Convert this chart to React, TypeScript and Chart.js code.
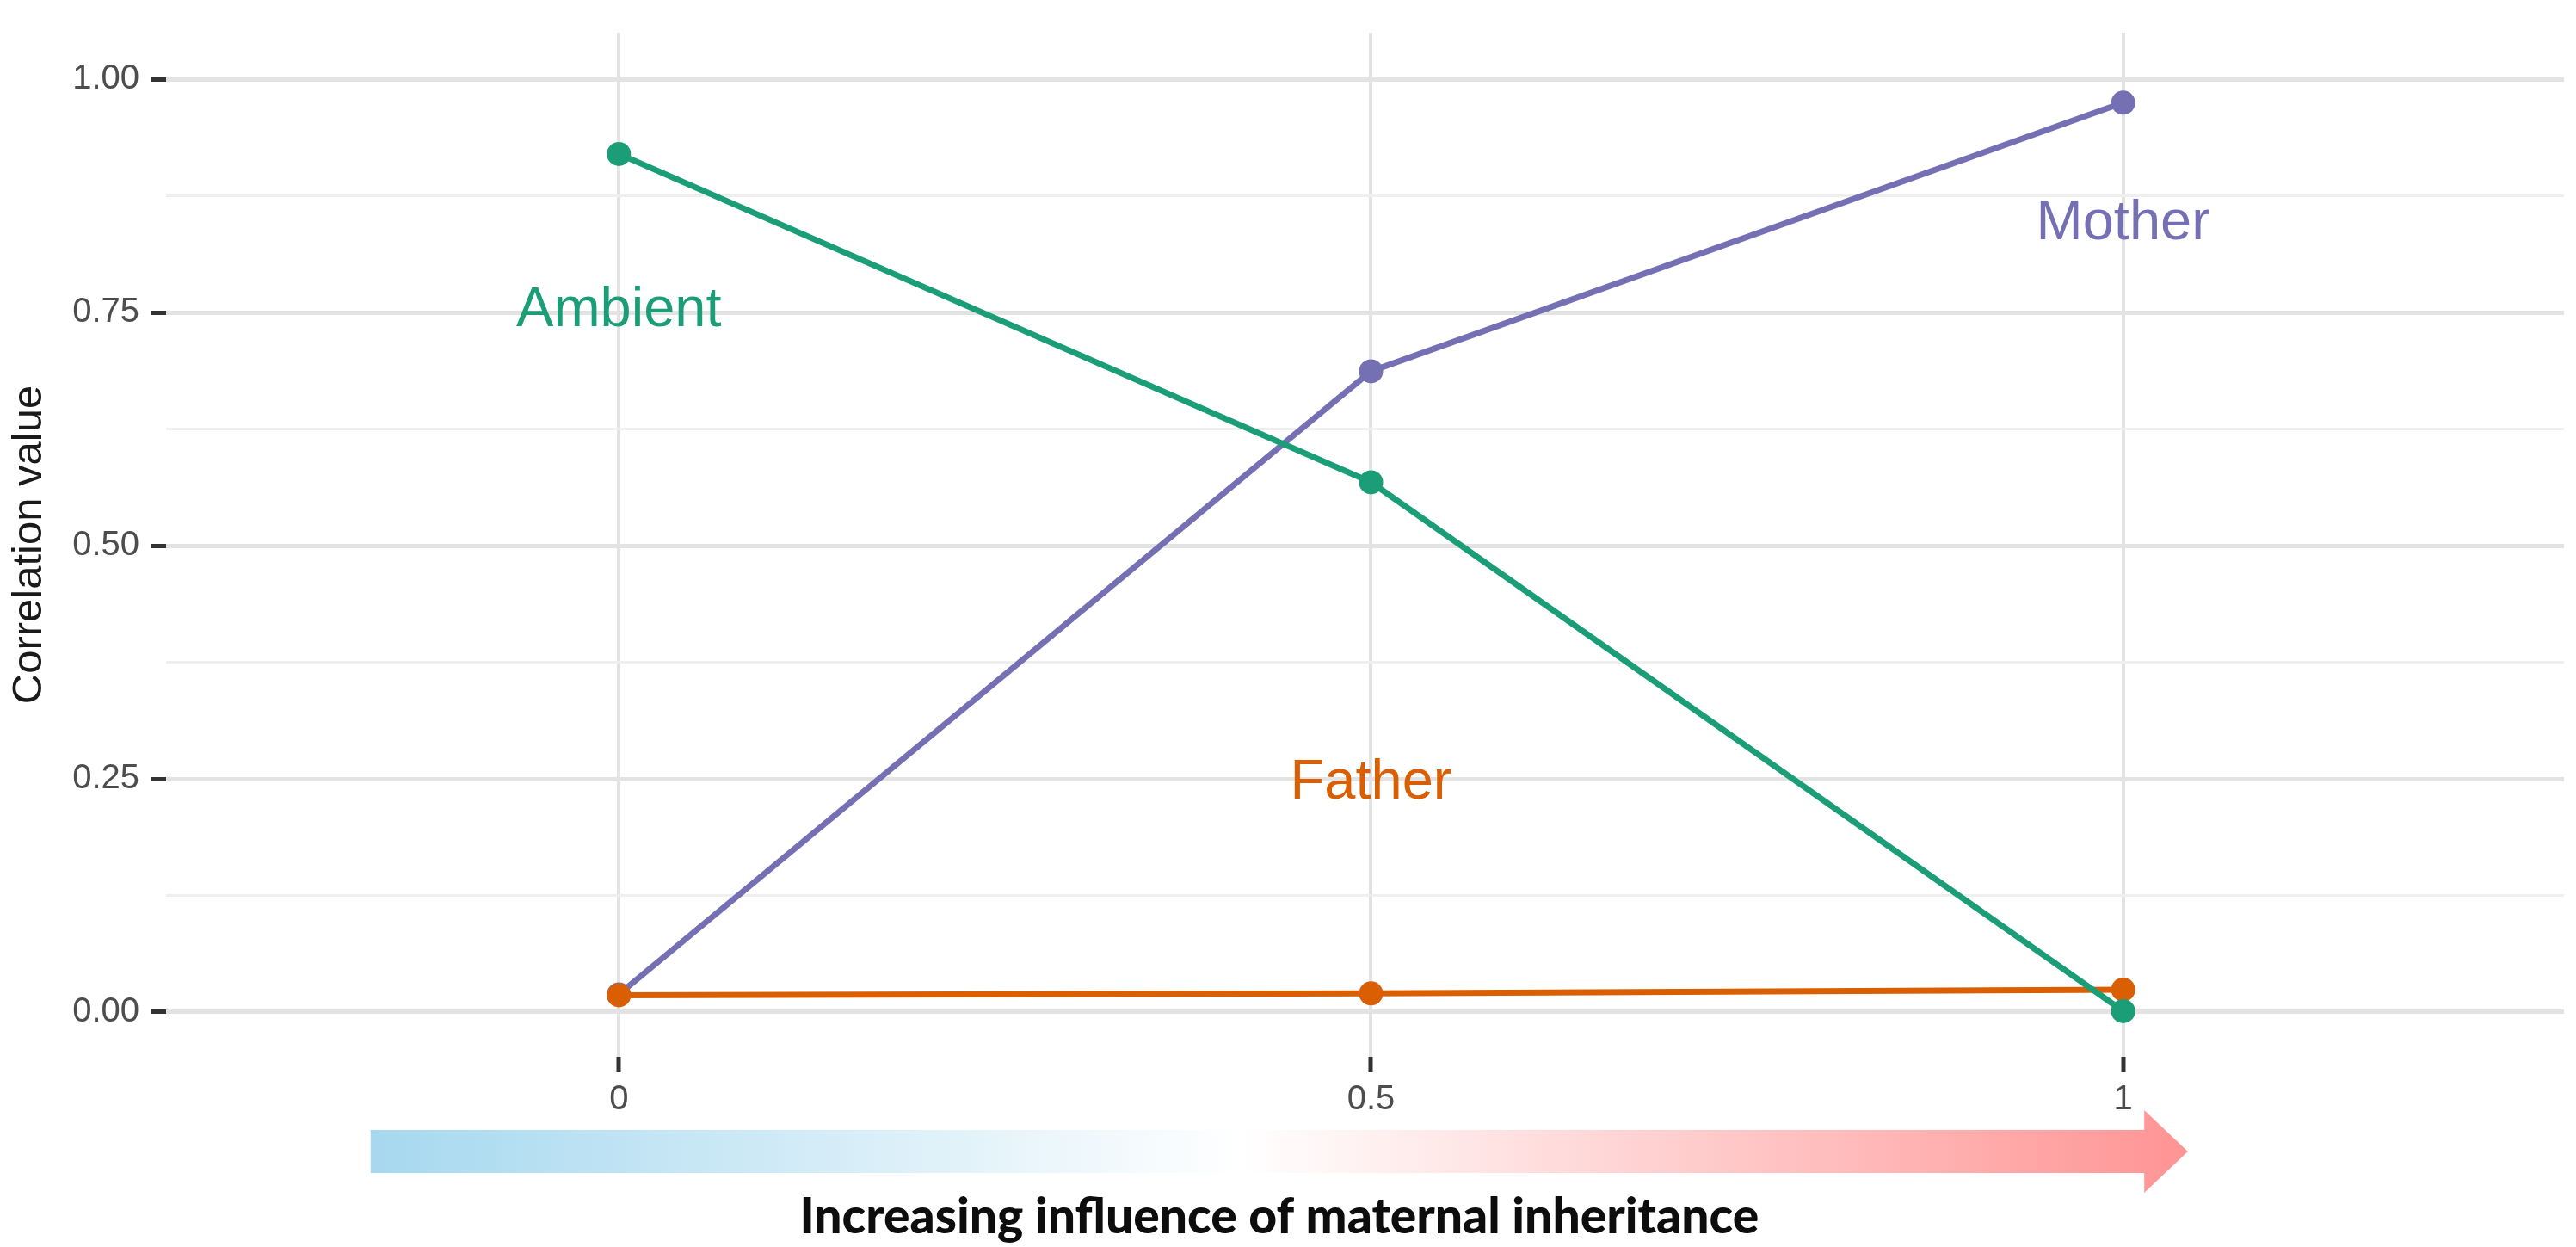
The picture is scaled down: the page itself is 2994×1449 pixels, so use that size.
import React, { useEffect, useRef } from "react";
import { Chart, registerables } from "chart.js";

Chart.register(...registerables);

// ---- data ----
const xValues = [0, 0.5, 1];
const xTickLabels = ["0", "0.5", "1"];
const yTickValues = [0, 0.25, 0.5, 0.75, 1];
const yTickLabels = ["0.00", "0.25", "0.50", "0.75", "1.00"];
const yMinorTicks = [0.125, 0.375, 0.625, 0.875];

const seriesNames = ["Ambient", "Father", "Mother"];
const ambientValues = [0.92, 0.568, 0.001];
const fatherValues = [0.018, 0.02, 0.024];
const motherValues = [0.019, 0.687, 0.975];
const seriesColors = ["#1b9e77", "#d95f02", "#7570b3"];

// direct labels (data coordinates)
const labelX = [0, 0.5, 1];
const labelY = [0.752, 0.245, 0.845];

const axisTitleY = "Correlation value";
const arrowCaption = "Increasing influence of maternal inheritance";

const W = 2994;
const H = 1449;
const FONT = "'Liberation Sans', Arial, Helvetica, sans-serif";

const isMajorY = (v: number) => yTickValues.some((t) => Math.abs(t - v) < 1e-9);

export default function App() {
  const ref = useRef<HTMLCanvasElement | null>(null);

  useEffect(() => {
    if (!ref.current) return;
    const seriesValues = [ambientValues, fatherValues, motherValues];

    const annotate = {
      id: "annotate",
      afterDraw(chart: any) {
        const { ctx, scales } = chart;
        const xs = scales.x;
        const ys = scales.y;
        ctx.save();
        // direct series labels
        ctx.font = `65px ${FONT}`;
        ctx.textAlign = "center";
        ctx.textBaseline = "middle";
        seriesNames.forEach((name, i) => {
          ctx.fillStyle = seriesColors[i];
          ctx.fillText(name, xs.getPixelForValue(labelX[i]), ys.getPixelForValue(labelY[i]));
        });

        // gradient arrow
        const x0 = xs.getPixelForValue(-0.165);
        const xBase = xs.getPixelForValue(1.014);
        const xTip = xs.getPixelForValue(1.043);
        const yc = 1338;
        const half = 25;
        const headHalf = 48;
        const g = ctx.createLinearGradient(x0, 0, xTip, 0);
        g.addColorStop(0, "#a6d8ef");
        g.addColorStop(0.48, "#ffffff");
        g.addColorStop(1, "#ff9494");
        ctx.fillStyle = g;
        ctx.beginPath();
        ctx.moveTo(x0, yc - half);
        ctx.lineTo(xBase, yc - half);
        ctx.lineTo(xBase, yc - headHalf);
        ctx.lineTo(xTip, yc);
        ctx.lineTo(xBase, yc + headHalf);
        ctx.lineTo(xBase, yc + half);
        ctx.lineTo(x0, yc + half);
        ctx.closePath();
        ctx.fill();

        // caption
        ctx.fillStyle = "#0d0d0d";
        ctx.font = `900 57px Lato, 'Open Sans', sans-serif`;
        ctx.textAlign = "center";
        ctx.textBaseline = "middle";
        ctx.fillText(arrowCaption, (x0 + xTip) / 2, 1415);
        ctx.restore();
      },
    };

    const chart = new Chart(ref.current, {
      type: "line",
      data: {
        datasets: seriesNames.map((name, i) => ({
          label: name,
          data: xValues.map((x, j) => ({ x, y: seriesValues[i][j] })),
          borderColor: seriesColors[i],
          backgroundColor: seriesColors[i],
          pointBackgroundColor: seriesColors[i],
          pointBorderWidth: 0,
          pointRadius: 14,
          borderWidth: 7,
          tension: 0,
        })),
      },
      options: {
        animation: false,
        responsive: false,
        devicePixelRatio: 1,
        layout: { padding: { top: 34, left: 0, right: 0, bottom: 0 } },
        plugins: { legend: { display: false }, tooltip: { enabled: false } },
        scales: {
          x: {
            type: "linear",
            min: -0.301,
            max: 1.293,
            afterBuildTicks: (s: any) => {
              s.ticks = xValues.map((v) => ({ value: v }));
            },
            afterFit: (s: any) => {
              s.height = 221;
            },
            ticks: {
              callback: (v: any) => {
                const i = xValues.indexOf(Number(v));
                return i >= 0 ? xTickLabels[i] : "";
              },
              font: { family: FONT, size: 40 },
              color: "#4d4d4d",
              padding: 8,
              maxRotation: 0,
              autoSkip: false,
            },
            grid: {
              color: "#e3e3e3",
              lineWidth: 4,
              tickLength: 18,
              tickColor: "#333333",
              tickWidth: 5,
            },
            border: { display: false },
          },
          y: {
            type: "linear",
            min: -0.048,
            max: 1.05,
            afterBuildTicks: (s: any) => {
              s.ticks = [...yTickValues, ...yMinorTicks]
                .sort((a, b) => a - b)
                .map((v) => ({ value: v }));
            },
            afterFit: (s: any) => {
              s.width = 193;
            },
            ticks: {
              callback: (v: any) => {
                const i = yTickValues.findIndex((t) => Math.abs(t - Number(v)) < 1e-9);
                return i >= 0 ? yTickLabels[i] : "";
              },
              font: { family: FONT, size: 40 },
              color: "#4d4d4d",
              padding: 14,
              autoSkip: false,
            },
            grid: {
              color: (c: any) => (c.tick && isMajorY(c.tick.value) ? "#e3e3e3" : "#efefef"),
              lineWidth: (c: any) => (c.tick && isMajorY(c.tick.value) ? 5 : 3),
              tickLength: 17,
              tickColor: (c: any) => (c.tick && isMajorY(c.tick.value) ? "#333333" : "rgba(0,0,0,0)"),
              tickWidth: 5,
            },
            border: { display: false },
            title: {
              display: true,
              text: axisTitleY,
              font: { family: FONT, size: 49 },
              color: "#1a1a1a",
              padding: { top: 5, bottom: 0 },
            },
          },
        },
      },
      plugins: [annotate],
    } as any);

    return () => chart.destroy();
  }, []);

  return (
    <div style={{ position: "fixed", left: 0, top: 0, width: W, height: H, background: "#ffffff" }}>
      <canvas ref={ref} width={W} height={H} style={{ width: W, height: H, display: "block" }} />
    </div>
  );
}
